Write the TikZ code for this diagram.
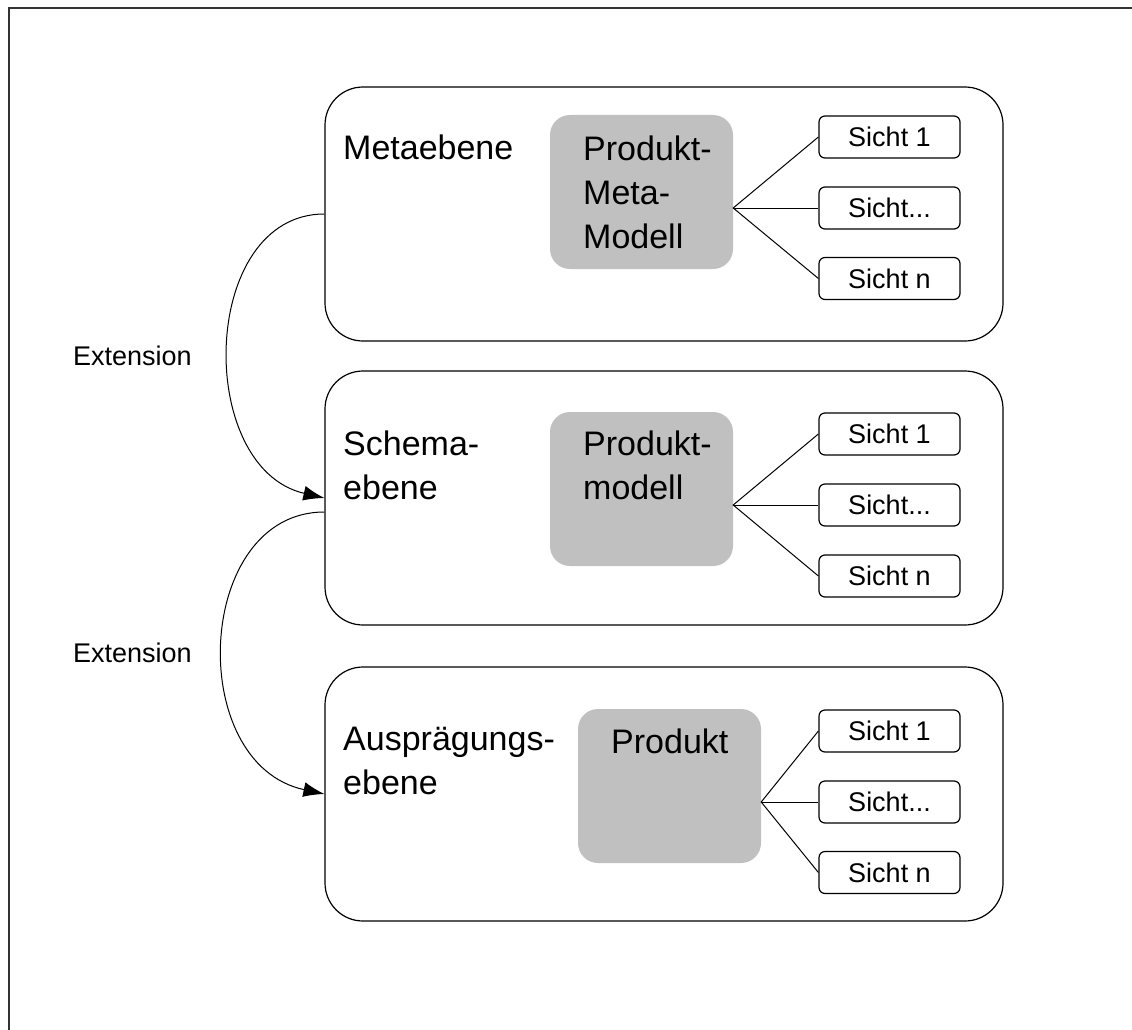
\documentclass[tikz,border=0pt]{standalone}
\usepackage{fontspec}
\setmainfont{Liberation Sans}
\usetikzlibrary{arrows.meta,calc}
\tikzset {>={Latex[length=21pt,width=15pt]}}
\definecolor{modellgrau}{HTML}{C0C0C0}

\begin{document}
\begin{tikzpicture}[x=1pt,y=-1pt,
  ebene/.style={draw,line width=1.2pt,rounded corners=38pt,minimum width=678pt,minimum height=254pt,inner sep=0pt},
  modell/.style={fill=modellgrau,rounded corners=20pt,minimum width=183pt,minimum height=154pt,inner sep=0pt},
  sicht/.style={draw,line width=1.2pt,rounded corners=6pt,minimum width=141pt,minimum height=42pt,inner sep=0pt,font=\fontsize{27}{32}\selectfont},
  gross/.style={inner sep=0pt,align=left,font=\fontsize{34}{44}\selectfont},
  klein/.style={inner sep=0pt,font=\fontsize{27}{31}\selectfont},
  linie/.style={line width=1pt}]
\useasboundingbox (0,0) rectangle (1132,1030);
\draw[line width=2.5pt,black!80] (9,1040) |- (1140,8);
\node[ebene] (meta) at (664,214) {};
\node[ebene] (schema) at (664,498) {};
\node[ebene] (auspr) at (664,794) {};
\node[modell] (pmm) at (641.5,192) {};
\node[modell] (pm) at (641.5,489) {};
\node[modell] (p) at (669.5,786) {};
\node[gross,anchor=base west] (tmeta) at (343,160) {Metaebene};
\node[gross,anchor=north west] (tpmm) at (583,136) {Produkt-\\Meta-\\Modell};
\node[gross,anchor=north west] (tschema) at (343,431) {Schema-\\ebene};
\node[gross,anchor=north west] (tpm) at (583,431) {Produkt-\\modell};
\node[gross,anchor=north west] (tauspr) at (343,727) {Ausprägungs-\\ebene};
\node[gross,anchor=base west] (tp) at (611,753) {Produkt};
\node[sicht] (s11) at (889.5,137) {Sicht 1};
\node[sicht] (s12) at (889.5,208) {Sicht...};
\node[sicht] (s13) at (889.5,278.5) {Sicht n};
\node[sicht] (s21) at (889.5,434) {Sicht 1};
\node[sicht] (s22) at (889.5,505) {Sicht...};
\node[sicht] (s23) at (889.5,576) {Sicht n};
\node[sicht] (s31) at (889.5,731) {Sicht 1};
\node[sicht] (s32) at (889.5,802) {Sicht...};
\node[sicht] (s33) at (889.5,872.5) {Sicht n};
\coordinate (f1) at (pmm.east |- s12.west);
\coordinate (f2) at (pm.east |- s22.west);
\coordinate (f3) at (p.east |- s32.west);
\draw[linie] (s11.west) -- (f1) -- (s13.west);
\draw[linie] (f1) -- (s12.west);
\draw[linie] (s21.west) -- (f2) -- (s23.west);
\draw[linie] (f2) -- (s22.west);
\draw[linie] (s31.west) -- (f3) -- (s33.west);
\draw[linie] (f3) -- (s32.west);
\node[klein,anchor=base west] (ext1) at (73,365) {Extension};
\node[klein,anchor=base west] (ext2) at (73,662) {Extension};
\draw[linie,->] (meta.west) .. controls +(-125,0) and +(-130,-30) .. (schema.west);
\draw[linie,->] ([yshift=-14pt]schema.west) .. controls +(-130,0) and +(-140,-30) .. (auspr.west);
\end{tikzpicture}
\end{document}
